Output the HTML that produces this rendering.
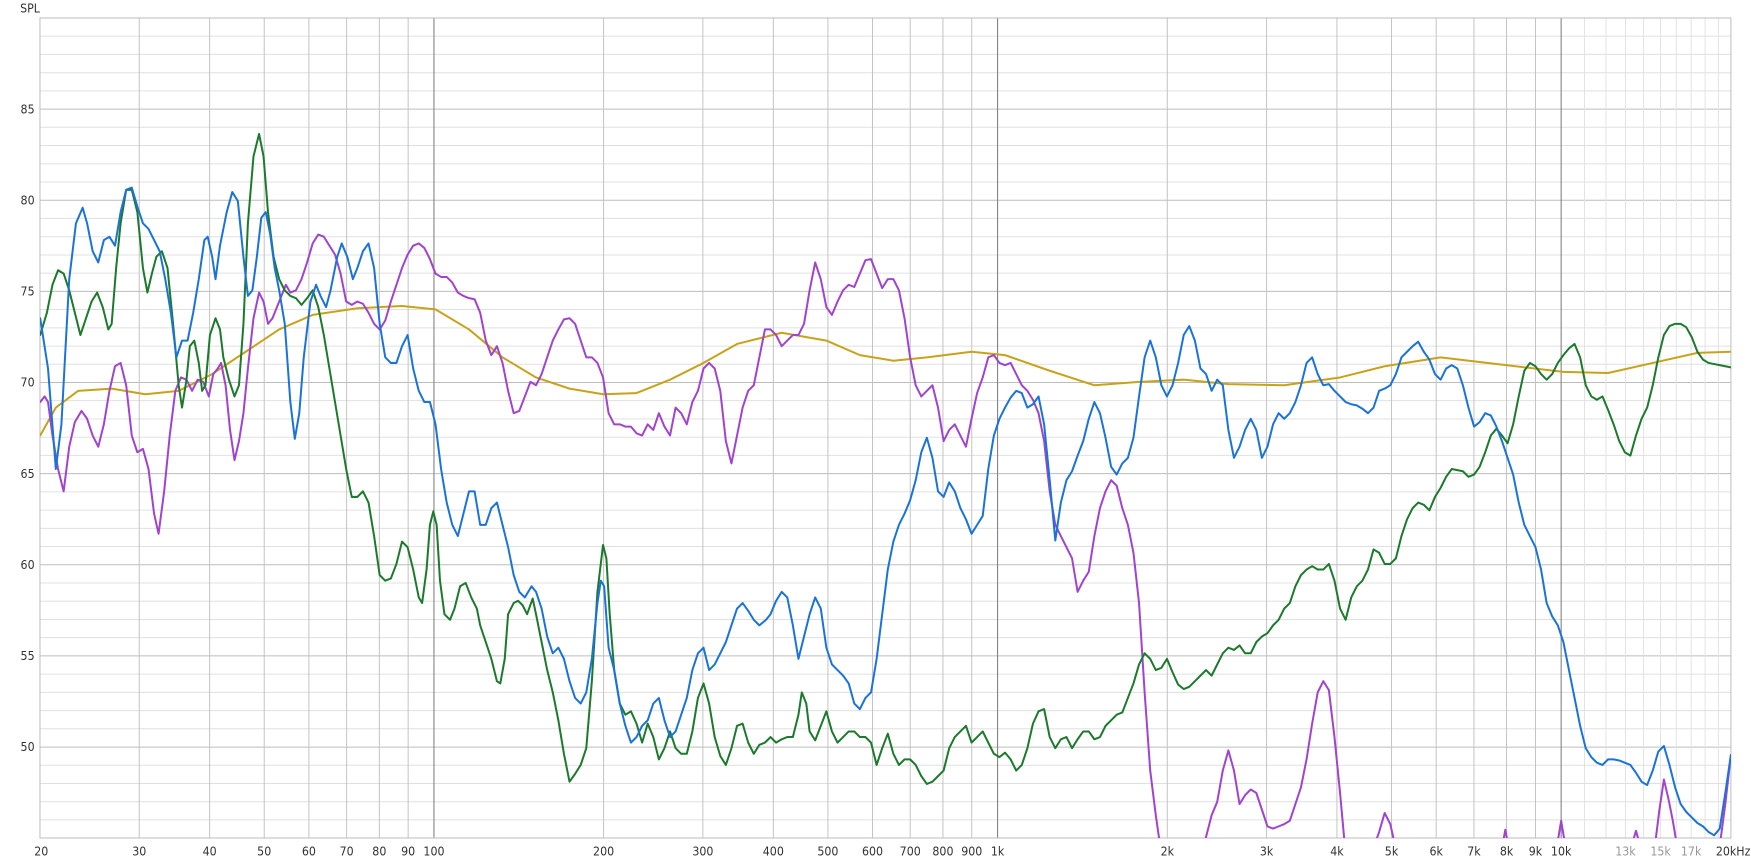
<!DOCTYPE html>
<html><head><meta charset="utf-8"><style>
html,body{margin:0;padding:0;background:#fff}
svg{display:block}
text{font-family:"DejaVu Sans Condensed","Liberation Sans Narrow","Liberation Sans",sans-serif;font-size:11px;fill:#333}
.g1{stroke:#e0e0e0;stroke-width:0.9}
.g5{stroke:#bdbdbd;stroke-width:0.9}
.gv{stroke:#c4c4c4;stroke-width:0.9}
.gvm{stroke:#e3e3e3;stroke-width:0.9}
.gd{stroke:#858585;stroke-width:1}
.c{fill:none;stroke-width:1.8;stroke-linejoin:round;stroke-linecap:round}
</style></head><body>
<svg width="1751" height="863" viewBox="0 0 1568 772.8" preserveAspectRatio="none" xmlns="http://www.w3.org/2000/svg">
<defs><clipPath id="cp"><rect x="35.8" y="16.1" width="1514.2" height="734.3"/></clipPath></defs>
<rect x="0" y="0" width="1568" height="772.8" fill="#fff"/>
<g>
<line class="g1" x1="35.8" x2="1550" y1="32.4" y2="32.4"/><line class="g1" x1="35.8" x2="1550" y1="48.7" y2="48.7"/><line class="g1" x1="35.8" x2="1550" y1="65.1" y2="65.1"/><line class="g1" x1="35.8" x2="1550" y1="81.4" y2="81.4"/>
<line class="g5" x1="35.8" x2="1550" y1="97.7" y2="97.7"/>
<line class="g1" x1="35.8" x2="1550" y1="114.0" y2="114.0"/><line class="g1" x1="35.8" x2="1550" y1="130.3" y2="130.3"/><line class="g1" x1="35.8" x2="1550" y1="146.7" y2="146.7"/><line class="g1" x1="35.8" x2="1550" y1="163.0" y2="163.0"/>
<line class="g5" x1="35.8" x2="1550" y1="179.3" y2="179.3"/>
<line class="g1" x1="35.8" x2="1550" y1="195.6" y2="195.6"/><line class="g1" x1="35.8" x2="1550" y1="212.0" y2="212.0"/><line class="g1" x1="35.8" x2="1550" y1="228.3" y2="228.3"/><line class="g1" x1="35.8" x2="1550" y1="244.6" y2="244.6"/>
<line class="g5" x1="35.8" x2="1550" y1="260.9" y2="260.9"/>
<line class="g1" x1="35.8" x2="1550" y1="277.2" y2="277.2"/><line class="g1" x1="35.8" x2="1550" y1="293.6" y2="293.6"/><line class="g1" x1="35.8" x2="1550" y1="309.9" y2="309.9"/><line class="g1" x1="35.8" x2="1550" y1="326.2" y2="326.2"/>
<line class="g5" x1="35.8" x2="1550" y1="342.5" y2="342.5"/>
<line class="g1" x1="35.8" x2="1550" y1="358.8" y2="358.8"/><line class="g1" x1="35.8" x2="1550" y1="375.2" y2="375.2"/><line class="g1" x1="35.8" x2="1550" y1="391.5" y2="391.5"/><line class="g1" x1="35.8" x2="1550" y1="407.8" y2="407.8"/>
<line class="g5" x1="35.8" x2="1550" y1="424.1" y2="424.1"/>
<line class="g1" x1="35.8" x2="1550" y1="440.5" y2="440.5"/><line class="g1" x1="35.8" x2="1550" y1="456.8" y2="456.8"/><line class="g1" x1="35.8" x2="1550" y1="473.1" y2="473.1"/><line class="g1" x1="35.8" x2="1550" y1="489.4" y2="489.4"/>
<line class="g5" x1="35.8" x2="1550" y1="505.7" y2="505.7"/>
<line class="g1" x1="35.8" x2="1550" y1="522.1" y2="522.1"/><line class="g1" x1="35.8" x2="1550" y1="538.4" y2="538.4"/><line class="g1" x1="35.8" x2="1550" y1="554.7" y2="554.7"/><line class="g1" x1="35.8" x2="1550" y1="571.0" y2="571.0"/>
<line class="g5" x1="35.8" x2="1550" y1="587.3" y2="587.3"/>
<line class="g1" x1="35.8" x2="1550" y1="603.7" y2="603.7"/><line class="g1" x1="35.8" x2="1550" y1="620.0" y2="620.0"/><line class="g1" x1="35.8" x2="1550" y1="636.3" y2="636.3"/><line class="g1" x1="35.8" x2="1550" y1="652.6" y2="652.6"/>
<line class="g5" x1="35.8" x2="1550" y1="669.0" y2="669.0"/>
<line class="g1" x1="35.8" x2="1550" y1="685.3" y2="685.3"/><line class="g1" x1="35.8" x2="1550" y1="701.6" y2="701.6"/><line class="g1" x1="35.8" x2="1550" y1="717.9" y2="717.9"/><line class="g1" x1="35.8" x2="1550" y1="734.2" y2="734.2"/>
</g>
<g>
<line class="gv" x1="124.7" x2="124.7" y1="16.1" y2="750.4"/><line class="gv" x1="187.7" x2="187.7" y1="16.1" y2="750.4"/><line class="gv" x1="236.6" x2="236.6" y1="16.1" y2="750.4"/><line class="gv" x1="276.6" x2="276.6" y1="16.1" y2="750.4"/><line class="gv" x1="310.4" x2="310.4" y1="16.1" y2="750.4"/><line class="gv" x1="339.7" x2="339.7" y1="16.1" y2="750.4"/><line class="gv" x1="365.5" x2="365.5" y1="16.1" y2="750.4"/>
<line class="gd" x1="388.6" x2="388.6" y1="16.1" y2="750.4"/>
<line class="gv" x1="540.5" x2="540.5" y1="16.1" y2="750.4"/><line class="gv" x1="629.4" x2="629.4" y1="16.1" y2="750.4"/><line class="gv" x1="692.5" x2="692.5" y1="16.1" y2="750.4"/><line class="gv" x1="741.4" x2="741.4" y1="16.1" y2="750.4"/><line class="gv" x1="781.3" x2="781.3" y1="16.1" y2="750.4"/><line class="gv" x1="815.1" x2="815.1" y1="16.1" y2="750.4"/><line class="gv" x1="844.4" x2="844.4" y1="16.1" y2="750.4"/><line class="gv" x1="870.2" x2="870.2" y1="16.1" y2="750.4"/>
<line class="gd" x1="893.3" x2="893.3" y1="16.1" y2="750.4"/>
<line class="gv" x1="1045.3" x2="1045.3" y1="16.1" y2="750.4"/><line class="gv" x1="1134.2" x2="1134.2" y1="16.1" y2="750.4"/><line class="gv" x1="1197.2" x2="1197.2" y1="16.1" y2="750.4"/><line class="gv" x1="1246.1" x2="1246.1" y1="16.1" y2="750.4"/><line class="gv" x1="1286.1" x2="1286.1" y1="16.1" y2="750.4"/><line class="gv" x1="1319.9" x2="1319.9" y1="16.1" y2="750.4"/><line class="gv" x1="1349.1" x2="1349.1" y1="16.1" y2="750.4"/><line class="gv" x1="1375.0" x2="1375.0" y1="16.1" y2="750.4"/>
<line class="gd" x1="1398.0" x2="1398.0" y1="16.1" y2="750.4"/>
<line class="gvm" x1="1418.9" x2="1418.9" y1="16.1" y2="750.4"/><line class="gvm" x1="1438.1" x2="1438.1" y1="16.1" y2="750.4"/><line class="gvm" x1="1455.6" x2="1455.6" y1="16.1" y2="750.4"/><line class="gvm" x1="1471.8" x2="1471.8" y1="16.1" y2="750.4"/><line class="gvm" x1="1487.0" x2="1487.0" y1="16.1" y2="750.4"/><line class="gvm" x1="1501.1" x2="1501.1" y1="16.1" y2="750.4"/><line class="gvm" x1="1514.4" x2="1514.4" y1="16.1" y2="750.4"/><line class="gvm" x1="1526.9" x2="1526.9" y1="16.1" y2="750.4"/><line class="gvm" x1="1538.8" x2="1538.8" y1="16.1" y2="750.4"/>
</g>
<rect x="35.8" y="16.1" width="1514.2" height="734.3" fill="none" stroke="#bdbdbd" stroke-width="0.9"/>

<g clip-path="url(#cp)">
<polyline class="c" stroke="#c9a21a" points="36,390 50,365 70,350 100,348 130,353 160,350 190,335 220,315 250,295 280,282 320,276 360,274 390,277 420,295 450,320 480,338 510,348 540,353 570,352 600,340 630,325 660,308 700,298 740,305 770,318 800,323 830,320 870,315 900,318 940,332 980,345 1020,342 1060,340 1100,344 1150,345 1200,338 1240,328 1290,320 1340,326 1400,333 1440,334 1480,325 1520,316 1550,315"/>

<polyline class="c" stroke="#a044d0" points="36,360 40,355 43,360 47,390 52,420 57,440 62,400 67,378 73,368 78,375 83,390 88,400 93,380 98,350 103,328 108,325 113,345 118,390 123,405 128,402 133,420 138,460 142,478 147,440 152,390 157,350 162,338 167,340 172,350 177,340 182,342 187,355 191,335 195,330 198,325 202,345 206,385 210,412 214,395 218,370 222,330 227,285 232,262 236,270 240,290 244,285 248,275 252,265 256,255 260,262 265,260 270,250 275,235 280,218 285,210 290,212 295,220 300,228 305,245 310,270 315,273 320,270 325,272 330,280 335,290 340,295 345,287 350,270 355,255 360,240 365,228 370,220 375,218 380,222 385,232 390,245 395,248 400,248 405,253 410,262 415,265 420,267 425,268 430,280 435,305 440,318 445,310 450,325 455,350 460,370 465,368 470,355 475,342 480,345 485,335 490,320 495,305 500,295 505,286 510,285 515,290 520,305 525,320 530,320 535,325 540,338 545,370 550,380 555,380 560,382 565,382 570,388 575,390 580,380 585,385 590,370 595,382 600,390 605,365 610,370 615,380 620,360 625,350 630,330 635,325 640,330 645,350 650,395 655,415 660,390 665,365 670,350 675,345 680,320 685,295 690,295 695,300 700,310 705,305 710,300 715,300 720,290 725,260 730,235 735,250 740,275 745,282 750,270 755,260 760,255 765,257 770,245 775,233 780,232 785,245 790,258 795,250 800,250 805,260 810,285 815,320 820,345 825,355 830,350 835,345 840,365 845,395 850,385 855,380 860,390 865,400 870,375 875,352 880,338 885,320 890,318 895,325 900,327 905,325 910,335 915,345 920,350 925,358 930,370 935,395 940,440 945,470 950,480 955,490 960,500 965,530 970,520 975,512 980,480 985,455 990,440 995,430 1000,435 1005,455 1010,470 1015,495 1020,540 1025,620 1030,690 1035,730 1040,765"/>
<polyline class="c" stroke="#a044d0" points="1076,765 1085,730 1090,718 1095,690 1100,672 1105,690 1110,720 1115,712 1120,707 1125,710 1130,725 1135,740 1140,742 1145,740 1150,738 1155,735 1160,720 1165,705 1170,680 1175,648 1180,620 1185,610 1190,618 1195,660 1200,710 1205,765"/>
<polyline class="c" stroke="#a044d0" points="1228,765 1235,745 1240,728 1245,738 1251,765"/>
<polyline class="c" stroke="#a044d0" points="1344,765 1348,743 1352,765"/>
<polyline class="c" stroke="#a044d0" points="1393,765 1398,735 1403,765"/>
<polyline class="c" stroke="#a044d0" points="1459,765 1465,744 1471,765"/>
<polyline class="c" stroke="#a044d0" points="1481,765 1486,725 1490,698 1494,715 1498,735 1503,765"/>
<polyline class="c" stroke="#a044d0" points="1539,765 1545,720 1550,676"/>

<polyline class="c" stroke="#1c7a2c" points="36,300 42,280 47,255 52,242 57,245 62,260 67,280 72,300 77,285 82,270 87,262 92,275 97,295 100,290 104,240 108,200 113,170 118,170 123,190 128,240 132,262 136,245 140,230 145,225 150,240 155,290 160,345 163,365 167,340 170,310 174,305 178,325 181,350 184,345 188,300 193,285 197,295 200,320 205,340 210,355 214,345 218,290 222,200 227,140 232,120 236,140 240,190 245,230 250,250 255,260 260,265 265,267 270,273 275,267 280,260 285,275 290,300 295,330 300,360 305,390 310,420 315,445 320,445 325,440 330,450 335,480 340,515 345,520 350,518 355,505 360,485 365,490 370,510 375,535 378,540 382,510 385,470 388,458 391,470 394,520 398,550 403,555 407,545 412,525 417,522 422,535 427,545 430,560 435,575 440,590 445,610 448,612 452,590 455,550 460,540 464,538 468,542 472,550 477,536 480,550 485,575 490,600 495,620 500,645 505,675 510,700 515,693 520,685 525,670 530,610 535,530 540,488 543,500 546,550 550,600 555,630 560,640 565,637 570,648 575,665 580,648 585,660 590,680 595,670 600,655 605,670 610,675 615,675 620,655 625,625 630,612 635,630 640,660 645,677 650,685 655,670 660,650 665,648 670,665 675,675 680,667 685,665 690,660 695,665 700,662 705,660 710,660 715,640 718,620 722,630 725,655 730,663 735,650 740,637 745,655 750,665 755,660 760,655 765,655 770,660 775,660 780,665 785,685 790,670 795,657 800,675 805,685 810,680 815,680 820,685 825,695 830,702 835,700 840,695 845,690 850,670 855,660 860,655 865,650 870,665 875,660 880,655 885,665 890,675 895,678 900,674 905,680 910,690 915,685 920,670 925,648 930,637 935,635 940,660 945,670 950,662 955,660 960,670 965,662 970,655 975,655 980,662 985,660 990,650 995,645 1000,640 1005,638 1010,625 1015,612 1020,595 1025,585 1030,590 1035,600 1040,598 1045,590 1050,602 1055,613 1060,617 1065,615 1070,610 1075,605 1080,600 1085,605 1090,595 1095,585 1100,580 1105,582 1110,578 1115,585 1120,585 1125,575 1130,570 1135,567 1140,560 1145,555 1150,545 1155,540 1160,525 1165,515 1170,510 1175,507 1180,510 1185,510 1190,505 1195,520 1200,545 1205,555 1210,535 1215,525 1220,520 1225,510 1230,492 1235,495 1240,505 1245,505 1250,500 1255,480 1260,465 1265,455 1270,450 1275,452 1280,457 1285,445 1290,437 1295,427 1300,420 1305,421 1310,422 1315,427 1320,425 1325,418 1330,405 1335,390 1340,384 1345,390 1350,397 1355,380 1360,355 1365,332 1370,325 1375,328 1380,335 1385,340 1390,335 1395,325 1400,318 1405,312 1410,308 1415,320 1420,345 1425,355 1430,358 1435,355 1440,367 1445,380 1450,395 1455,405 1460,408 1465,390 1470,375 1475,365 1480,345 1485,320 1490,300 1495,292 1500,290 1505,290 1510,293 1515,302 1520,315 1525,322 1530,325 1535,326 1540,327 1545,328 1550,329"/>

<polyline class="c" stroke="#1a74d8" points="36,285 43,330 50,420 55,380 62,250 68,200 74,186 78,200 83,225 88,235 93,215 98,212 103,220 108,190 113,170 118,168 123,185 128,200 133,205 138,215 143,225 148,250 153,280 158,320 163,305 168,305 173,280 178,250 183,215 186,212 190,230 193,250 197,220 203,190 208,172 213,180 218,230 222,265 226,260 230,230 234,195 238,190 242,210 246,240 250,260 255,290 260,360 264,393 268,370 272,320 278,270 283,255 287,265 292,275 296,260 302,230 306,218 311,230 316,250 320,240 325,225 330,218 335,240 340,290 345,320 350,325 355,325 360,310 365,300 370,330 375,350 380,360 385,360 390,380 395,420 400,450 405,470 410,480 415,460 420,440 425,440 430,470 435,470 440,455 445,450 450,470 455,490 460,515 465,530 470,535 476,525 480,530 485,545 490,570 495,585 500,580 505,590 510,610 515,625 520,630 525,620 530,590 535,540 538,520 541,525 545,580 550,600 555,630 560,650 565,665 570,660 575,650 580,645 585,630 590,625 595,645 600,660 605,655 610,640 615,625 620,600 625,585 630,580 635,600 640,595 645,585 650,575 655,560 660,545 665,540 670,547 675,555 680,560 686,555 690,550 695,538 700,530 705,535 710,560 715,590 720,570 725,550 730,535 735,545 740,580 745,595 750,600 755,605 760,612 765,630 770,635 775,625 780,620 785,590 790,550 795,510 800,485 805,470 810,460 815,448 820,430 825,405 830,392 835,410 840,440 845,445 850,432 855,440 860,455 865,465 870,478 875,470 880,462 885,420 890,390 895,375 900,365 905,356 910,350 915,352 920,365 925,362 930,355 935,380 940,430 945,484 950,450 955,430 960,422 965,408 970,395 975,375 980,360 985,370 990,392 995,418 1000,425 1005,415 1010,410 1015,392 1020,355 1025,320 1030,305 1035,320 1040,345 1045,355 1050,345 1055,325 1060,300 1065,292 1070,305 1075,330 1080,335 1085,350 1090,340 1095,345 1100,385 1105,410 1110,400 1115,385 1120,375 1125,385 1130,410 1135,400 1140,380 1145,370 1150,375 1155,370 1160,360 1165,345 1170,325 1175,320 1180,335 1185,345 1190,344 1195,350 1200,355 1205,360 1210,362 1215,363 1220,366 1225,370 1230,365 1235,350 1240,348 1245,345 1250,335 1255,320 1260,315 1265,310 1270,306 1275,315 1280,322 1285,335 1290,340 1295,330 1300,327 1305,330 1310,345 1315,365 1320,382 1325,378 1330,370 1335,372 1340,382 1345,395 1350,410 1355,425 1360,450 1365,470 1370,480 1375,490 1380,510 1385,540 1390,552 1395,560 1400,575 1405,600 1410,625 1415,650 1420,670 1425,678 1430,683 1435,685 1440,680 1445,680 1450,681 1455,683 1460,685 1465,692 1470,700 1475,703 1480,690 1485,673 1490,668 1495,685 1500,705 1505,720 1510,727 1515,732 1520,737 1525,740 1530,745 1535,748 1540,742 1545,710 1550,676"/>
</g>

<text x="18" y="11">SPL</text>
<g text-anchor="end">
<text x="31" y="101.5">85</text><text x="31" y="183">80</text><text x="31" y="264.5">75</text><text x="31" y="346">70</text><text x="31" y="428">65</text><text x="31" y="509.5">60</text><text x="31" y="591">55</text><text x="31" y="672.5">50</text>
</g>
<g text-anchor="middle">
<text x="37" y="766">20</text><text x="124.7" y="766">30</text><text x="187.7" y="766">40</text><text x="236.6" y="766">50</text><text x="276.6" y="766">60</text><text x="310.4" y="766">70</text><text x="339.7" y="766">80</text><text x="365.5" y="766">90</text><text x="388.6" y="766">100</text>
<text x="540.5" y="766">200</text><text x="629.4" y="766">300</text><text x="692.5" y="766">400</text><text x="741.4" y="766">500</text><text x="781.3" y="766">600</text><text x="815.1" y="766">700</text><text x="844.4" y="766">800</text><text x="870.2" y="766">900</text><text x="893.3" y="766">1k</text>
<text x="1045.3" y="766">2k</text><text x="1134.2" y="766">3k</text><text x="1197.2" y="766">4k</text><text x="1246.1" y="766">5k</text><text x="1286.1" y="766">6k</text><text x="1319.9" y="766">7k</text><text x="1349.1" y="766">8k</text><text x="1375.0" y="766">9k</text><text x="1398.0" y="766">10k</text>
<text x="1455.6" y="766" style="fill:#999">13k</text><text x="1487.0" y="766" style="fill:#999">15k</text><text x="1514.4" y="766" style="fill:#999">17k</text><text x="1552" y="766">20kHz</text>
</g>
</svg>
</body></html>
